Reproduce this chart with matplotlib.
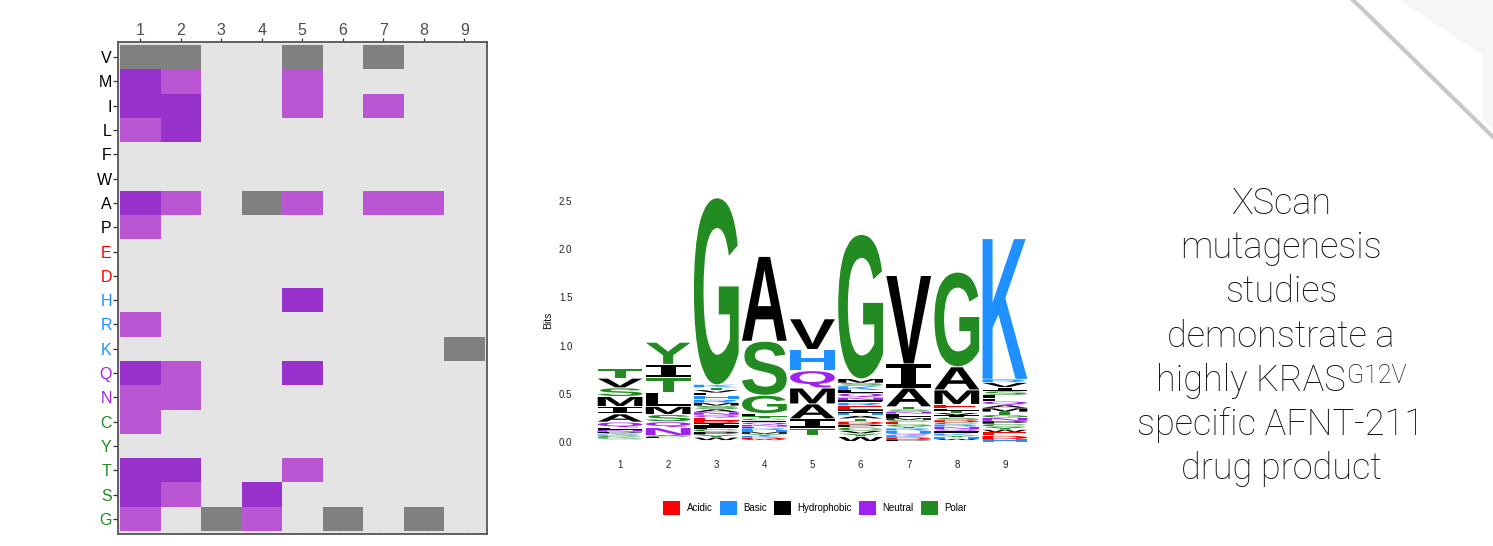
import matplotlib
matplotlib.use("Agg")
import matplotlib.pyplot as plt
import numpy as np
from matplotlib.textpath import TextPath
from matplotlib.font_manager import FontProperties
from matplotlib.patches import PathPatch, Patch, Polygon
from matplotlib.colors import ListedColormap, BoundaryNorm
from matplotlib.path import Path
from matplotlib.lines import Line2D

W, H, DPI = 1493, 546, 100

# ---------------- heatmap data ----------------
residues = ["V", "M", "I", "L", "F", "W", "A", "P", "E", "D",
            "H", "R", "K", "Q", "N", "C", "Y", "T", "S", "G"]
positions = [1, 2, 3, 4, 5, 6, 7, 8, 9]

wild_type = [("V", 1), ("V", 2), ("G", 3), ("A", 4), ("V", 5),
             ("G", 6), ("V", 7), ("G", 8), ("K", 9)]
strong_hits = [("M", 1), ("I", 1), ("I", 2), ("L", 2), ("A", 1), ("H", 5),
               ("Q", 1), ("Q", 5), ("T", 1), ("T", 2), ("S", 1), ("S", 4)]
moderate_hits = [("M", 2), ("M", 5), ("I", 5), ("I", 7), ("L", 1), ("A", 2),
                 ("A", 5), ("A", 7), ("A", 8), ("P", 1), ("R", 1), ("Q", 2),
                 ("N", 1), ("N", 2), ("C", 1), ("T", 5), ("S", 2), ("G", 1),
                 ("G", 4)]

residue_class = {
    "E": "Acidic", "D": "Acidic",
    "H": "Basic", "R": "Basic", "K": "Basic",
    "Q": "Neutral", "N": "Neutral",
    "C": "Polar", "Y": "Polar", "T": "Polar", "S": "Polar", "G": "Polar",
    "V": "Hydrophobic", "M": "Hydrophobic", "I": "Hydrophobic", "L": "Hydrophobic",
    "F": "Hydrophobic", "W": "Hydrophobic", "A": "Hydrophobic", "P": "Hydrophobic",
}
legend_classes = ["Acidic", "Basic", "Hydrophobic", "Neutral", "Polar"]
class_colors = {"Acidic": "#FF0000", "Basic": "#1E90FF", "Hydrophobic": "#000000",
                "Neutral": "#A020F0", "Polar": "#228B22"}

# ---------------- sequence logo data (bits, listed top to bottom) ----------------
logo_col1 = [("T", .097), ("V", .100), ("S", .090), ("M", .104), ("I", .076),
             ("A", .086), ("Q", .059), ("L", .024), ("N", .020), ("P", .016),
             ("Y", .012), ("R", .014), ("C", .014), ("K", .012), ("G", .012)]
logo_col2 = [("Y", .230), ("I", .140), ("T", .150), ("L", .145), ("M", .085),
             ("S", .075), ("Q", .060), ("N", .085), ("A", .010), ("C", .010),
             ("F", .010)]
logo_col3 = [("G", 1.94), ("K", .030), ("T", .025), ("V", .030), ("L", .030),
             ("H", .040), ("R", .035), ("M", .030), ("S", .035), ("A", .030),
             ("N", .030), ("Q", .030), ("E", .030), ("D", .025), ("I", .030),
             ("F", .030), ("C", .030), ("P", .030), ("Y", .028), ("W", .030)]
logo_col4 = [("A", .880), ("S", .560), ("G", .190), ("L", .030), ("T", .025),
             ("C", .020), ("F", .020), ("Q", .025), ("N", .020), ("E", .015),
             ("R", .020), ("H", .020), ("M", .020), ("Y", .020), ("K", .020),
             ("D", .015), ("W", .010)]
logo_col5 = [("V", .318), ("H", .220), ("Q", .180), ("M", .165), ("A", .155),
             ("I", .095), ("T", .077)]
logo_col6 = [("G", 1.498), ("M", .045), ("S", .030), ("K", .045), ("L", .030),
             ("Q", .045), ("N", .030), ("F", .025), ("R", .030), ("E", .045),
             ("I", .030), ("H", .030), ("A", .030), ("T", .030), ("D", .030),
             ("P", .030), ("C", .035), ("V", .030), ("Y", .030), ("W", .050)]
logo_col7 = [("V", .917), ("I", .250), ("A", .195), ("T", .030), ("S", .025),
             ("N", .020), ("L", .025), ("F", .020), ("M", .020), ("C", .020),
             ("E", .025), ("G", .020), ("Y", .020), ("R", .025), ("H", .025),
             ("Q", .020), ("K", .025), ("D", .020), ("P", .020)]
logo_col8 = [("G", .982), ("A", .240), ("M", .150), ("E", .045), ("L", .025),
             ("T", .020), ("V", .025), ("I", .025), ("S", .025), ("D", .025),
             ("C", .020), ("R", .025), ("N", .025), ("Q", .020), ("F", .025),
             ("K", .020), ("Y", .020), ("H", .015), ("W", .015)]
logo_col9 = [("K", 1.460), ("R", .035), ("V", .050), ("I", .040), ("S", .040),
             ("L", .035), ("F", .030), ("Q", .040), ("A", .030), ("M", .040),
             ("T", .030), ("G", .030), ("N", .035), ("P", .030), ("C", .030),
             ("Y", .030), ("W", .025), ("E", .035), ("D", .040), ("H", .025)]
logo_columns = [logo_col1, logo_col2, logo_col3, logo_col4, logo_col5,
                logo_col6, logo_col7, logo_col8, logo_col9]
logo_floor = [0.028, 0.040, 0.020, 0.020, 0.073, 0.010, 0.010, 0.020, 0.005]
bits_ticks = [0.0, 0.5, 1.0, 1.5, 2.0, 2.5]

caption_lines = ["XScan", "mutagenesis", "studies", "demonstrate a",
                 "highly KRAS", "specific AFNT-211", "drug product"]
caption_superscript = "G12V"

# ---------------- figure ----------------
fig = plt.figure(figsize=(W / DPI, H / DPI), dpi=DPI)
fig.patch.set_facecolor("white")


def px_box(x0, y0, x1, y1):
    """Axes rectangle from pixel corners (top-left origin)."""
    return [x0 / W, 1 - y1 / H, (x1 - x0) / W, (y1 - y0) / H]


# ---- corner decoration (behind everything) ----
fig.add_artist(Polygon([(1400 / W, 1), (1, 1), (1, 1 - 130 / H),
                        (1482 / W, 1 - 118 / H), (1482 / W, 1 - 55 / H)],
                       closed=True, facecolor="#F6F6F6", edgecolor="none",
                       transform=fig.transFigure, zorder=0))
fig.add_artist(Line2D([1353 / W, 1], [1, 1 - 137 / H], color="#C8C8C8",
                      linewidth=3, transform=fig.transFigure, zorder=1))

# ---- heatmap ----
ax = fig.add_axes(px_box(118, 42, 487, 534))
level = np.zeros((len(residues), len(positions)))
for code, hits in ((1, moderate_hits), (2, strong_hits), (3, wild_type)):
    for res, pos in hits:
        level[residues.index(res), positions.index(pos)] = code

cmap = ListedColormap(["#E4E4E4", "#BA55D3", "#9932CC", "#808080"])
norm = BoundaryNorm([-0.5, 0.5, 1.5, 2.5, 3.5], cmap.N)
x_edges = np.arange(0.5, len(positions) + 1, 1.0)
y_edges = np.arange(0.5, len(residues) + 1, 1.0)
ax.set_facecolor("#E4E4E4")
ax.set_axisbelow(True)
ax.grid(True, color="#EEEEEE", linewidth=0.6)
ax.pcolormesh(x_edges, y_edges, level, cmap=cmap, norm=norm, zorder=2)
ax.set_xlim(0.45, 9.56)
ax.set_ylim(20.62, 0.38)
ax.xaxis.tick_top()
ax.set_xticks(positions)
ax.set_xticklabels([str(p) for p in positions], family="Liberation Sans")
ax.set_yticks(np.arange(1, len(residues) + 1))
ax.set_yticklabels(residues, family="Liberation Sans")
for lab, res in zip(ax.get_yticklabels(), residues):
    lab.set_color(class_colors[residue_class[res]])
ax.tick_params(axis="x", length=3, width=0.9, pad=0, labelsize=11.5,
               labelcolor="#4D4D4D", color="#333333")
ax.tick_params(axis="y", length=3.5, width=0.9, pad=1, labelsize=11.5,
               color="#333333")
for s in ax.spines.values():
    s.set_color("#555555")
    s.set_linewidth(1.3)

# ---- sequence logo ----
bits_px = 96.4
lax = fig.add_axes(px_box(596, 442 - 2.6 * bits_px, 1029, 442))
lax.set_xlim(0.5, 9.5)
lax.set_ylim(0, 2.6)
for s in lax.spines.values():
    s.set_visible(False)
lax.set_xticks(positions)
lax.set_xticklabels([str(p) for p in positions], family="Liberation Sans")
lax.set_yticks(bits_ticks)
lax.set_yticklabels([f"{t:.1f}" for t in bits_ticks], family="Liberation Sans")
lax.tick_params(axis="both", length=0, labelsize=7, labelcolor="#222222")
lax.tick_params(axis="x", pad=13)
lax.tick_params(axis="y", pad=17)
fig.text(548 / W, 1 - 320 / H, "Bits", rotation=90, ha="center", va="center",
         fontsize=7.5, family="Liberation Sans", color="#111111")

glyph_font = FontProperties(family="Liberation Sans", weight="bold")
serif_i_font = FontProperties(family="DejaVu Sans Mono", weight="bold")
glyph_cache = {}


def glyph(letter):
    if letter not in glyph_cache:
        prop = serif_i_font if letter == "I" else glyph_font
        tp = TextPath((0, 0), letter, size=1, prop=prop)
        glyph_cache[letter] = (tp.vertices.copy(), tp.codes, tp.get_extents())
    return glyph_cache[letter]


def draw_letter(axis, letter, xc, y0, w, h, color):
    verts, codes, ext = glyph(letter)
    gap = min(0.01, 0.15 * h)
    hh = h - gap
    v = verts.copy()
    v[:, 0] = xc - w / 2 + (v[:, 0] - ext.x0) / ext.width * w
    v[:, 1] = y0 + (v[:, 1] - ext.y0) / ext.height * hh
    axis.add_patch(PathPatch(Path(v, codes), facecolor=color,
                             edgecolor="none", linewidth=0))


letter_width = 0.93
for pos, column, floor in zip(positions, logo_columns, logo_floor):
    y = floor
    for letter, height in reversed(column):
        draw_letter(lax, letter, pos, y, letter_width, height,
                    class_colors[residue_class[letter]])
        y += height

handles = [Patch(facecolor=class_colors[c], edgecolor="none") for c in legend_classes]
fig.legend(handles, legend_classes, loc="center",
           bbox_to_anchor=(815 / W, 1 - 508 / H), ncol=5, frameon=False,
           prop=FontProperties(family="Liberation Sans", size=7),
           handlelength=1.75, handleheight=1.75, handletextpad=0.7,
           columnspacing=0.7)

# ---- caption ----
cap_font = dict(family="Roboto", weight="light", color="#111111")
cap_size, sup_size = 26, 18
cx = 1281
baselines = [214, 258, 302, 347, 391, 435, 479]
renderer = fig.canvas.get_renderer()
for text, base in zip(caption_lines, baselines):
    if text == "highly KRAS":
        main = fig.text(0, 1 - base / H, text, fontsize=cap_size, ha="left",
                        va="baseline", **cap_font)
        sup = fig.text(0, 1 - (base - 8) / H, caption_superscript,
                       fontsize=sup_size, ha="left", va="baseline", **cap_font)
        wm = main.get_window_extent(renderer).width
        ws = sup.get_window_extent(renderer).width
        start = cx - (wm + ws + 1) / 2
        main.set_x(start / W)
        sup.set_x((start + wm + 1) / W)
    else:
        fig.text(cx / W, 1 - base / H, text, fontsize=cap_size, ha="center",
                 va="baseline", **cap_font)

fig.savefig("out.png", dpi=DPI, facecolor="white")
